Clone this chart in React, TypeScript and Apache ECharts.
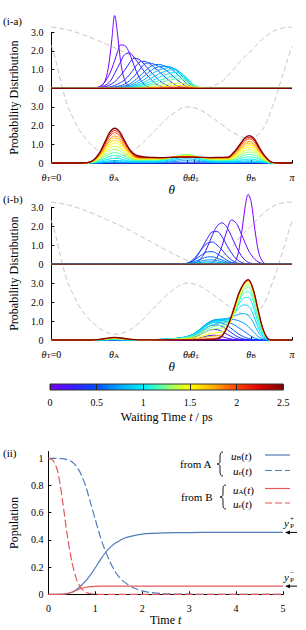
import React, { useEffect, useRef } from 'react';
import * as echarts from 'echarts';

const SERIF = 'Liberation Serif, serif';

// ---------- axes / ticks ----------
const THETA_TICKS = [0, 0.26, 0.565, 0.595, 0.83, 1]; // θ in units of π
const THETA_TICK_LABELS = ['{i|θ}{s|T}{n|=0}', '{i|θ}{s|A}', '{i|θ}{s|P}', '{i|θ}{s|‡}', '{i|θ}{s|B}', '{i|π}'];
const PD_TICKS = [0, 1, 2, 3, 4, 5, 6, 7];
const PD_TICK_LABELS = ['0', '1.0', '2.0', '3.0', '0', '1.0', '2.0', '3.0'];
const UPPER_OFFSET = 4;
const T_MAX = 2.5;
const POP_TICKS = [0, 0.2, 0.4, 0.6, 0.8, 1];

// colour map of the waiting time
const CMAP_STOPS: [number, string][] = [
  [0, '#7800ff'], [0.1, '#3a18ff'], [0.2, '#0050ff'], [0.3, '#00a8ff'], [0.4, '#00f0ff'],
  [0.47, '#50ffb0'], [0.53, '#b0ff50'], [0.6, '#ffff00'], [0.7, '#ffb000'], [0.8, '#ff4000'],
  [0.9, '#dd0000'], [1, '#800000'],
];

// ---------- potentials (gray dashed) ----------
const POT_EXC_THETA = [0, 0.061, 0.121, 0.182, 0.243, 0.304, 0.364, 0.425, 0.486, 0.547, 0.587, 0.628, 0.668, 0.709, 0.749, 0.789, 0.83, 0.87, 0.911, 0.951, 1];
const POT_EXC = [7.28, 7.15, 6.92, 6.62, 6.28, 5.92, 5.52, 5.1, 4.68, 4.3, 4.12, 4.03, 4.1, 4.38, 4.9, 5.5, 6.0, 6.55, 6.97, 7.2, 7.28];
const POT_GND_THETA = [0, 0.012, 0.028, 0.045, 0.065, 0.089, 0.117, 0.15, 0.186, 0.223, 0.263, 0.312, 0.36, 0.409, 0.457, 0.506, 0.563, 0.611, 0.66, 0.709, 0.757, 0.822, 0.862, 0.891, 0.915, 0.935, 0.955, 0.972, 0.988, 1];
const POT_GND = [6.3, 5.8, 4.95, 4.05, 3.15, 2.45, 1.75, 1.2, 0.75, 0.45, 0.3, 0.45, 0.85, 1.45, 2.1, 2.65, 3.0, 2.88, 2.5, 2.05, 1.62, 1.32, 1.55, 2.1, 2.9, 3.6, 4.45, 5.1, 5.8, 6.25];

// ---------- (i-a) upper: from A, excited ----------
const A_UP_THETA = [0, 0.162, 0.182, 0.202, 0.223, 0.239, 0.251, 0.263, 0.275, 0.287, 0.304, 0.324, 0.344, 0.364, 0.385, 0.405, 0.425, 0.445, 0.466, 0.486, 0.506, 0.526, 0.547, 0.567, 0.587, 0.607, 0.628, 0.648, 1];
const A_UP_T = [0, 0.1, 0.2, 0.3, 0.4, 0.5, 0.6, 0.7, 0.8, 0.9, 1.0, 1.1, 1.2, 1.4, 1.6, 1.8, 2.1, 2.5];
const A_UP_ROWS = [
  [0, 0, 0.01, 0.05, 0.4, 1.3, 2.6, 3.9, 2.9, 1.5, 0.45, 0.08, 0.01, 0, 0, 0, 0, 0, 0, 0, 0, 0, 0, 0, 0, 0, 0, 0, 0],
  [0, 0, 0.03, 0.1, 0.35, 0.7, 1.05, 1.5, 1.95, 2.32, 2.3, 1.9, 1.2, 0.6, 0.22, 0.06, 0.01, 0, 0, 0, 0, 0, 0, 0, 0, 0, 0, 0, 0],
  [0, 0, 0, 0.04, 0.15, 0.3, 0.5, 0.8, 1.1, 1.4, 1.8, 1.9, 1.65, 1.3, 0.92, 0.6, 0.34, 0.15, 0.05, 0.01, 0, 0, 0, 0, 0, 0, 0, 0, 0],
  [0, 0, 0, 0.02, 0.08, 0.15, 0.24, 0.35, 0.5, 0.68, 0.95, 1.35, 1.62, 1.55, 1.3, 1.0, 0.72, 0.46, 0.26, 0.12, 0.04, 0.01, 0, 0, 0, 0, 0, 0, 0],
  [0, 0, 0, 0, 0.03, 0.06, 0.1, 0.15, 0.22, 0.3, 0.45, 0.72, 1.05, 1.38, 1.45, 1.35, 1.15, 0.92, 0.68, 0.45, 0.26, 0.12, 0.04, 0.01, 0, 0, 0, 0, 0],
  [0, 0, 0, 0, 0, 0.02, 0.04, 0.07, 0.1, 0.14, 0.22, 0.4, 0.65, 0.95, 1.28, 1.36, 1.3, 1.18, 1.05, 0.88, 0.65, 0.42, 0.22, 0.08, 0.02, 0, 0, 0, 0],
  [0, 0, 0, 0, 0, 0, 0, 0.03, 0.05, 0.08, 0.12, 0.22, 0.4, 0.62, 0.88, 1.1, 1.25, 1.28, 1.22, 1.12, 0.95, 0.72, 0.45, 0.2, 0.06, 0.01, 0, 0, 0],
  [0, 0, 0, 0, 0, 0, 0, 0, 0.02, 0.04, 0.07, 0.14, 0.26, 0.44, 0.65, 0.87, 1.05, 1.15, 1.18, 1.17, 1.08, 0.88, 0.6, 0.32, 0.12, 0.03, 0, 0, 0],
  [0, 0, 0, 0, 0, 0, 0, 0, 0, 0.02, 0.04, 0.09, 0.17, 0.3, 0.46, 0.65, 0.83, 0.97, 1.06, 1.1, 1.08, 0.95, 0.7, 0.4, 0.16, 0.05, 0.01, 0, 0],
  [0, 0, 0, 0, 0, 0, 0, 0, 0, 0, 0.02, 0.05, 0.11, 0.2, 0.32, 0.47, 0.62, 0.76, 0.88, 0.97, 1.0, 0.93, 0.74, 0.46, 0.2, 0.06, 0.01, 0, 0],
  [0, 0, 0, 0, 0, 0, 0, 0, 0, 0, 0, 0.03, 0.07, 0.13, 0.22, 0.33, 0.45, 0.57, 0.68, 0.78, 0.84, 0.84, 0.72, 0.5, 0.24, 0.08, 0.015, 0, 0],
  [0, 0, 0, 0, 0, 0, 0, 0, 0, 0, 0, 0, 0.04, 0.08, 0.14, 0.22, 0.31, 0.4, 0.5, 0.58, 0.65, 0.67, 0.6, 0.44, 0.23, 0.08, 0.015, 0, 0],
  [0, 0, 0, 0, 0, 0, 0, 0, 0, 0, 0, 0, 0, 0.05, 0.09, 0.15, 0.21, 0.28, 0.35, 0.42, 0.48, 0.51, 0.47, 0.36, 0.2, 0.07, 0.01, 0, 0],
  [0, 0, 0, 0, 0, 0, 0, 0, 0, 0, 0, 0, 0, 0, 0.04, 0.07, 0.1, 0.14, 0.18, 0.22, 0.26, 0.28, 0.27, 0.21, 0.12, 0.04, 0.01, 0, 0],
  [0, 0, 0, 0, 0, 0, 0, 0, 0, 0, 0, 0, 0, 0, 0, 0.02, 0.04, 0.06, 0.08, 0.11, 0.13, 0.15, 0.14, 0.11, 0.07, 0.03, 0, 0, 0],
  [0, 0, 0, 0, 0, 0, 0, 0, 0, 0, 0, 0, 0, 0, 0, 0, 0.01, 0.02, 0.03, 0.05, 0.06, 0.07, 0.07, 0.05, 0.03, 0.01, 0, 0, 0],
  [0, 0, 0, 0, 0, 0, 0, 0, 0, 0, 0, 0, 0, 0, 0, 0, 0, 0, 0.01, 0.015, 0.02, 0.025, 0.025, 0.02, 0.01, 0, 0, 0, 0],
  [0, 0, 0, 0, 0, 0, 0, 0, 0, 0, 0, 0, 0, 0, 0, 0, 0, 0, 0, 0, 0, 0, 0, 0, 0, 0, 0, 0, 0],
];

// ---------- (i-a) lower: from A, ground ----------
const A_LOW_THETA = [0, 0.121, 0.15, 0.174, 0.198, 0.223, 0.243, 0.263, 0.283, 0.304, 0.328, 0.352, 0.385, 0.425, 0.466, 0.506, 0.538, 0.563, 0.587, 0.619, 0.66, 0.7, 0.733, 0.757, 0.781, 0.802, 0.822, 0.842, 0.862, 0.887, 0.911, 0.935, 1];
const A_LOW_T = [0, 0.5, 0.7, 0.8, 0.9, 1.0, 1.1, 1.2, 1.3, 1.4, 1.5, 1.6, 1.7, 1.8, 2.0, 2.2, 2.5];
const A_LOW_ROWS = [
  [0, 0, 0, 0, 0, 0, 0, 0, 0, 0, 0, 0, 0, 0, 0, 0, 0, 0, 0, 0, 0, 0, 0, 0, 0, 0, 0, 0, 0, 0, 0, 0, 0],
  [0, 0, 0, 0, 0, 0, 0, 0, 0, 0, 0, 0, 0, 0, 0, 0, 0, 0, 0, 0, 0, 0, 0, 0, 0, 0, 0, 0, 0, 0, 0, 0, 0],
  [0, 0, 0, 0, 0.01, 0.02, 0.03, 0.03, 0.03, 0.02, 0.02, 0.02, 0.02, 0.02, 0.03, 0.07, 0.11, 0.12, 0.11, 0.07, 0.03, 0.02, 0.02, 0.02, 0.02, 0.03, 0.03, 0.03, 0.02, 0.01, 0, 0, 0],
  [0, 0, 0, 0.01, 0.02, 0.04, 0.06, 0.07, 0.06, 0.05, 0.04, 0.04, 0.04, 0.04, 0.06, 0.13, 0.2, 0.22, 0.2, 0.12, 0.05, 0.04, 0.04, 0.04, 0.04, 0.05, 0.06, 0.05, 0.04, 0.02, 0, 0, 0],
  [0, 0, 0, 0.01, 0.04, 0.09, 0.12, 0.14, 0.13, 0.1, 0.07, 0.07, 0.07, 0.07, 0.1, 0.2, 0.29, 0.32, 0.29, 0.18, 0.08, 0.07, 0.07, 0.07, 0.08, 0.11, 0.12, 0.11, 0.07, 0.03, 0.01, 0, 0],
  [0, 0, 0, 0.02, 0.07, 0.16, 0.22, 0.25, 0.23, 0.16, 0.1, 0.1, 0.1, 0.1, 0.14, 0.26, 0.37, 0.4, 0.37, 0.24, 0.12, 0.1, 0.1, 0.1, 0.14, 0.19, 0.21, 0.19, 0.13, 0.05, 0.01, 0, 0],
  [0, 0, 0, 0.03, 0.11, 0.25, 0.36, 0.4, 0.36, 0.26, 0.15, 0.13, 0.13, 0.13, 0.17, 0.3, 0.41, 0.44, 0.41, 0.27, 0.15, 0.13, 0.13, 0.14, 0.22, 0.3, 0.33, 0.3, 0.2, 0.09, 0.02, 0, 0],
  [0, 0, 0.01, 0.04, 0.15, 0.35, 0.5, 0.56, 0.5, 0.36, 0.21, 0.16, 0.16, 0.16, 0.19, 0.31, 0.42, 0.45, 0.42, 0.29, 0.18, 0.16, 0.16, 0.18, 0.3, 0.41, 0.46, 0.41, 0.28, 0.12, 0.02, 0, 0],
  [0, 0, 0.01, 0.06, 0.2, 0.45, 0.65, 0.73, 0.66, 0.47, 0.27, 0.19, 0.19, 0.19, 0.21, 0.31, 0.41, 0.43, 0.41, 0.3, 0.2, 0.19, 0.19, 0.23, 0.38, 0.53, 0.59, 0.53, 0.35, 0.15, 0.03, 0, 0],
  [0, 0, 0.01, 0.07, 0.24, 0.56, 0.8, 0.9, 0.81, 0.58, 0.33, 0.21, 0.21, 0.21, 0.23, 0.31, 0.39, 0.41, 0.39, 0.3, 0.22, 0.21, 0.21, 0.27, 0.47, 0.65, 0.72, 0.65, 0.43, 0.19, 0.04, 0.01, 0],
  [0, 0, 0.01, 0.08, 0.29, 0.66, 0.94, 1.06, 0.95, 0.69, 0.39, 0.23, 0.23, 0.23, 0.24, 0.31, 0.37, 0.39, 0.37, 0.3, 0.24, 0.23, 0.23, 0.32, 0.55, 0.77, 0.85, 0.77, 0.51, 0.22, 0.04, 0.01, 0],
  [0, 0, 0.01, 0.1, 0.33, 0.75, 1.08, 1.21, 1.09, 0.79, 0.45, 0.26, 0.25, 0.25, 0.26, 0.31, 0.36, 0.37, 0.36, 0.3, 0.26, 0.25, 0.25, 0.37, 0.63, 0.87, 0.97, 0.87, 0.58, 0.25, 0.05, 0.01, 0],
  [0, 0, 0.01, 0.11, 0.36, 0.83, 1.19, 1.34, 1.21, 0.87, 0.5, 0.28, 0.26, 0.26, 0.27, 0.31, 0.34, 0.35, 0.34, 0.3, 0.27, 0.26, 0.26, 0.41, 0.7, 0.96, 1.07, 0.96, 0.64, 0.28, 0.05, 0.01, 0],
  [0, 0, 0.02, 0.12, 0.39, 0.9, 1.29, 1.45, 1.31, 0.94, 0.54, 0.3, 0.27, 0.27, 0.28, 0.31, 0.33, 0.34, 0.33, 0.3, 0.28, 0.27, 0.27, 0.44, 0.75, 1.04, 1.16, 1.04, 0.7, 0.3, 0.06, 0.01, 0],
  [0, 0, 0.02, 0.13, 0.44, 1.0, 1.44, 1.62, 1.46, 1.05, 0.6, 0.33, 0.28, 0.28, 0.29, 0.31, 0.32, 0.33, 0.32, 0.3, 0.29, 0.28, 0.28, 0.49, 0.84, 1.16, 1.29, 1.16, 0.77, 0.34, 0.06, 0.01, 0],
  [0, 0, 0.02, 0.14, 0.47, 1.08, 1.55, 1.74, 1.57, 1.13, 0.64, 0.36, 0.3, 0.29, 0.29, 0.3, 0.31, 0.32, 0.31, 0.3, 0.29, 0.29, 0.3, 0.52, 0.9, 1.24, 1.38, 1.24, 0.83, 0.36, 0.07, 0.01, 0],
  [0, 0, 0.02, 0.15, 0.5, 1.15, 1.65, 1.86, 1.68, 1.2, 0.68, 0.42, 0.33, 0.3, 0.29, 0.3, 0.31, 0.32, 0.31, 0.3, 0.29, 0.3, 0.31, 0.56, 0.95, 1.32, 1.47, 1.32, 0.88, 0.38, 0.07, 0.01, 0],
];

// ---------- (i-b) upper: from B, excited ----------
const B_UP_THETA = [0, 0.526, 0.547, 0.567, 0.587, 0.607, 0.628, 0.648, 0.668, 0.688, 0.709, 0.729, 0.749, 0.769, 0.789, 0.806, 0.818, 0.83, 0.846, 0.862, 0.879, 0.895, 0.911, 1];
const B_UP_T = [0, 0.1, 0.2, 0.3, 0.4, 0.5, 0.6, 0.7, 0.8, 0.9, 1.2, 2.5];
const B_UP_ROWS = [
  [0, 0, 0, 0, 0, 0, 0, 0, 0, 0, 0, 0, 0.02, 0.25, 1.5, 3.1, 3.68, 3.3, 1.8, 0.6, 0.12, 0.01, 0, 0],
  [0, 0, 0, 0, 0, 0, 0, 0, 0.08, 0.35, 0.95, 1.75, 2.33, 2.15, 1.6, 1.1, 0.75, 0.5, 0.25, 0.1, 0.03, 0, 0, 0],
  [0, 0, 0, 0, 0.02, 0.12, 0.4, 0.9, 1.5, 2.0, 2.18, 1.95, 1.45, 0.9, 0.45, 0.2, 0.1, 0.05, 0.01, 0, 0, 0, 0, 0],
  [0, 0, 0, 0.02, 0.15, 0.45, 0.9, 1.35, 1.7, 1.72, 1.45, 1.0, 0.58, 0.27, 0.1, 0.03, 0.01, 0, 0, 0, 0, 0, 0, 0],
  [0, 0, 0.01, 0.06, 0.22, 0.5, 0.85, 1.1, 1.17, 1.02, 0.75, 0.45, 0.22, 0.08, 0.02, 0, 0, 0, 0, 0, 0, 0, 0, 0],
  [0, 0, 0.02, 0.06, 0.17, 0.33, 0.52, 0.65, 0.66, 0.55, 0.38, 0.21, 0.09, 0.03, 0.01, 0, 0, 0, 0, 0, 0, 0, 0, 0],
  [0, 0, 0.01, 0.04, 0.1, 0.2, 0.3, 0.38, 0.39, 0.32, 0.22, 0.12, 0.05, 0.02, 0, 0, 0, 0, 0, 0, 0, 0, 0, 0],
  [0, 0, 0.01, 0.03, 0.06, 0.12, 0.18, 0.22, 0.23, 0.19, 0.13, 0.07, 0.03, 0.01, 0, 0, 0, 0, 0, 0, 0, 0, 0, 0],
  [0, 0, 0, 0.02, 0.04, 0.07, 0.1, 0.12, 0.12, 0.1, 0.07, 0.04, 0.02, 0, 0, 0, 0, 0, 0, 0, 0, 0, 0, 0],
  [0, 0, 0, 0.01, 0.02, 0.04, 0.05, 0.06, 0.06, 0.05, 0.03, 0.02, 0.01, 0, 0, 0, 0, 0, 0, 0, 0, 0, 0, 0],
  [0, 0, 0, 0, 0, 0, 0, 0, 0, 0, 0, 0, 0, 0, 0, 0, 0, 0, 0, 0, 0, 0, 0, 0],
  [0, 0, 0, 0, 0, 0, 0, 0, 0, 0, 0, 0, 0, 0, 0, 0, 0, 0, 0, 0, 0, 0, 0, 0],
];

// ---------- (i-b) lower: from B, ground ----------
const B_LOW_THETA = [0, 0.142, 0.182, 0.223, 0.263, 0.304, 0.344, 0.385, 0.425, 0.466, 0.506, 0.538, 0.563, 0.587, 0.611, 0.636, 0.66, 0.684, 0.709, 0.733, 0.757, 0.777, 0.798, 0.818, 0.838, 0.858, 0.879, 0.899, 0.919, 1];
const B_LOW_T = [0, 0.1, 0.2, 0.3, 0.4, 0.5, 0.6, 0.7, 0.8, 0.9, 1.0, 1.1, 1.2, 1.3, 1.5, 1.7, 2.0, 2.5];
const B_LOW_ROWS = [
  [0, 0, 0, 0, 0, 0, 0, 0, 0, 0, 0, 0, 0, 0, 0, 0, 0, 0, 0, 0, 0, 0, 0, 0, 0, 0, 0, 0, 0, 0],
  [0, 0, 0, 0, 0, 0, 0, 0, 0, 0, 0, 0, 0, 0, 0.01, 0.03, 0.05, 0.05, 0.03, 0.01, 0, 0, 0, 0, 0, 0, 0, 0, 0, 0],
  [0, 0, 0, 0, 0, 0, 0, 0, 0, 0, 0, 0, 0.01, 0.03, 0.08, 0.17, 0.24, 0.25, 0.18, 0.09, 0.03, 0.01, 0, 0, 0, 0, 0, 0, 0, 0],
  [0, 0, 0, 0, 0, 0, 0, 0, 0, 0, 0.01, 0.03, 0.06, 0.12, 0.24, 0.4, 0.53, 0.55, 0.45, 0.28, 0.13, 0.05, 0.02, 0, 0, 0, 0, 0, 0, 0],
  [0, 0, 0, 0, 0, 0, 0, 0, 0, 0.01, 0.03, 0.06, 0.1, 0.18, 0.33, 0.56, 0.75, 0.8, 0.72, 0.52, 0.3, 0.15, 0.06, 0.02, 0, 0, 0, 0, 0, 0],
  [0, 0, 0, 0, 0, 0, 0, 0, 0.01, 0.02, 0.05, 0.09, 0.14, 0.24, 0.42, 0.67, 0.88, 0.95, 0.9, 0.75, 0.52, 0.33, 0.18, 0.08, 0.03, 0.01, 0, 0, 0, 0],
  [0, 0, 0, 0, 0, 0, 0, 0, 0.02, 0.03, 0.06, 0.11, 0.17, 0.28, 0.48, 0.75, 0.96, 1.05, 1.03, 0.95, 0.82, 0.66, 0.48, 0.3, 0.14, 0.05, 0.01, 0, 0, 0],
  [0, 0, 0, 0, 0.01, 0, 0, 0, 0.02, 0.04, 0.07, 0.12, 0.18, 0.3, 0.5, 0.77, 0.98, 1.08, 1.1, 1.1, 1.08, 1.02, 0.9, 0.72, 0.45, 0.2, 0.05, 0.01, 0, 0],
  [0, 0, 0, 0.01, 0.02, 0.01, 0.01, 0.01, 0.02, 0.04, 0.07, 0.12, 0.18, 0.3, 0.5, 0.76, 0.96, 1.06, 1.1, 1.15, 1.25, 1.35, 1.4, 1.3, 0.95, 0.45, 0.12, 0.02, 0, 0],
  [0, 0, 0, 0.01, 0.03, 0.01, 0.01, 0.01, 0.02, 0.04, 0.07, 0.11, 0.17, 0.28, 0.47, 0.72, 0.92, 1.02, 1.06, 1.12, 1.35, 1.65, 1.85, 1.8, 1.38, 0.7, 0.2, 0.03, 0, 0],
  [0, 0, 0.01, 0.02, 0.04, 0.02, 0.01, 0.01, 0.02, 0.03, 0.06, 0.1, 0.16, 0.26, 0.43, 0.66, 0.86, 0.96, 1.0, 1.05, 1.35, 1.85, 2.2, 2.25, 1.8, 0.95, 0.3, 0.04, 0, 0],
  [0, 0, 0.01, 0.03, 0.05, 0.03, 0.01, 0.01, 0.02, 0.03, 0.05, 0.09, 0.14, 0.23, 0.38, 0.58, 0.76, 0.86, 0.9, 0.98, 1.3, 1.95, 2.45, 2.55, 2.1, 1.15, 0.38, 0.05, 0, 0],
  [0, 0, 0.01, 0.03, 0.06, 0.03, 0.01, 0.01, 0.02, 0.03, 0.05, 0.08, 0.12, 0.2, 0.32, 0.5, 0.65, 0.74, 0.78, 0.88, 1.3, 2.0, 2.6, 2.78, 2.3, 1.3, 0.44, 0.06, 0, 0],
  [0, 0, 0.01, 0.04, 0.07, 0.04, 0.02, 0.01, 0.02, 0.02, 0.04, 0.07, 0.1, 0.16, 0.26, 0.4, 0.53, 0.6, 0.64, 0.78, 1.3, 2.08, 2.7, 2.92, 2.45, 1.42, 0.5, 0.07, 0, 0],
  [0, 0, 0.01, 0.05, 0.09, 0.05, 0.02, 0.01, 0.01, 0.02, 0.03, 0.05, 0.07, 0.1, 0.16, 0.25, 0.33, 0.38, 0.44, 0.7, 1.38, 2.2, 2.82, 3.05, 2.58, 1.55, 0.55, 0.07, 0, 0],
  [0, 0, 0.01, 0.06, 0.11, 0.06, 0.02, 0.01, 0.01, 0.01, 0.02, 0.03, 0.04, 0.05, 0.08, 0.13, 0.18, 0.22, 0.3, 0.7, 1.48, 2.3, 2.9, 3.12, 2.65, 1.6, 0.58, 0.08, 0, 0],
  [0, 0, 0.01, 0.07, 0.12, 0.07, 0.02, 0.01, 0.01, 0.01, 0.01, 0.01, 0.02, 0.02, 0.03, 0.05, 0.07, 0.1, 0.22, 0.72, 1.55, 2.36, 2.93, 3.16, 2.68, 1.63, 0.59, 0.08, 0, 0],
  [0, 0, 0.01, 0.08, 0.14, 0.08, 0.02, 0.01, 0.01, 0.01, 0.01, 0.01, 0.01, 0.01, 0.01, 0.01, 0.01, 0.03, 0.2, 0.75, 1.6, 2.4, 2.95, 3.18, 2.7, 1.65, 0.6, 0.08, 0, 0],
];

// ---------- (ii) populations ----------
const II_T = [0, 0.1, 0.2, 0.3, 0.4, 0.5, 0.6, 0.7, 0.8, 0.9, 1.0, 1.1, 1.2, 1.3, 1.4, 1.5, 1.6, 1.8, 2.0, 2.2, 2.5, 3.0, 3.5, 4.0, 5.0];
const UB_FROM_A = [0, 0, 0, 0, 0.004, 0.015, 0.035, 0.065, 0.1, 0.145, 0.195, 0.25, 0.3, 0.34, 0.37, 0.39, 0.41, 0.43, 0.442, 0.448, 0.452, 0.454, 0.455, 0.455, 0.455];
const UE_FROM_A = [1, 1, 0.999, 0.997, 0.99, 0.975, 0.94, 0.88, 0.79, 0.67, 0.55, 0.43, 0.33, 0.25, 0.18, 0.13, 0.095, 0.05, 0.025, 0.012, 0.004, 0.001, 0, 0, 0];
const UA_FROM_B = [0, 0, 0, 0.001, 0.005, 0.015, 0.03, 0.043, 0.052, 0.057, 0.059, 0.06, 0.06, 0.06, 0.06, 0.06, 0.06, 0.06, 0.06, 0.06, 0.06, 0.06, 0.06, 0.06, 0.06];
const UE_FROM_B = [1, 0.985, 0.9, 0.69, 0.44, 0.24, 0.11, 0.045, 0.015, 0.005, 0.002, 0, 0, 0, 0, 0, 0, 0, 0, 0, 0, 0, 0, 0, 0];
const Y_P_PLUS = 0.455;
const Y_P_MINUS = 0.06;

const BLUE = '#4f7cb8';
const RED = '#e5585b';
const GRAY = '#c6c6c6';

echarts.graphic.registerShape(
  'legendBrace',
  echarts.graphic.extendPath('M6,0 C3.6,0 3,1.5 3,4 L3,9 C3,11 2,12 0,12 C2,12 3,13 3,15 L3,20 C3,22.5 3.6,24 6,24', {})
);

function hexRgb(h: string) {
  return [parseInt(h.slice(1, 3), 16), parseInt(h.slice(3, 5), 16), parseInt(h.slice(5, 7), 16)];
}
function cmap(u: number) {
  const s = CMAP_STOPS;
  if (u <= s[0][0]) return s[0][1];
  for (let i = 1; i < s.length; i++) {
    if (u <= s[i][0]) {
      const f = (u - s[i - 1][0]) / (s[i][0] - s[i - 1][0]);
      const a = hexRgb(s[i - 1][1]);
      const b = hexRgb(s[i][1]);
      return `rgb(${Math.round(a[0] + (b[0] - a[0]) * f)},${Math.round(a[1] + (b[1] - a[1]) * f)},${Math.round(a[2] + (b[2] - a[2]) * f)})`;
    }
  }
  return s[s.length - 1][1];
}

function family(thetas: number[], times: number[], rows: number[][], offset: number, axis: number) {
  return rows.map((row, k) => ({
    type: 'line',
    xAxisIndex: axis,
    yAxisIndex: axis,
    data: thetas.map((th, i) => [th, row[i] + offset]),
    smooth: 0.35,
    symbol: 'none',
    showSymbol: false,
    clip: false,
    silent: true,
    lineStyle: { width: k === rows.length - 1 ? 1.3 : 1, color: cmap(times[k] / T_MAX) },
  }));
}

function potentials(axis: number) {
  const mk = (th: number[], v: number[]) => ({
    type: 'line',
    xAxisIndex: axis,
    yAxisIndex: axis,
    data: th.map((t, i) => [t, v[i]]),
    smooth: 0.4,
    symbol: 'none',
    clip: false,
    silent: true,
    lineStyle: { width: 1, color: GRAY, type: [5, 3] },
  });
  return [mk(POT_EXC_THETA, POT_EXC), mk(POT_GND_THETA, POT_GND)];
}

const TXT = { fontFamily: SERIF, color: '#000' };
const THETA_RICH = {
  i: { ...TXT, fontSize: 10, fontStyle: 'italic', lineHeight: 13, verticalAlign: 'bottom' },
  s: { ...TXT, fontSize: 7, lineHeight: 7, padding: [4, 0, 0, 0], verticalAlign: 'bottom' },
  n: { ...TXT, fontSize: 10, lineHeight: 13, verticalAlign: 'bottom' },
};

function thetaAxis(gridIndex: number) {
  return {
    type: 'value',
    gridIndex,
    min: 0,
    max: 1,
    axisLine: { show: true, lineStyle: { color: '#000', width: 1 } },
    axisTick: { show: true, inside: true, length: 3, customValues: THETA_TICKS, lineStyle: { color: '#000' } },
    axisLabel: {
      customValues: THETA_TICKS,
      margin: 6,
      fontFamily: SERIF,
      formatter: (v: number) => {
        const i = THETA_TICKS.findIndex((t) => Math.abs(t - v) < 1e-6);
        return i >= 0 ? THETA_TICK_LABELS[i] : '';
      },
      rich: THETA_RICH,
    },
    splitLine: { show: false },
    name: 'θ',
    nameLocation: 'middle',
    nameGap: 20,
    nameTextStyle: { fontFamily: SERIF, fontSize: 13, fontStyle: 'italic', color: '#000' },
  };
}
function pdAxis(gridIndex: number) {
  return {
    type: 'value',
    gridIndex,
    min: 0,
    max: 7,
    axisLine: { show: true, lineStyle: { color: '#000', width: 1 } },
    axisTick: { show: true, inside: true, length: 3, customValues: PD_TICKS, lineStyle: { color: '#000' } },
    axisLabel: {
      customValues: PD_TICKS,
      margin: 8,
      fontFamily: SERIF,
      fontSize: 10,
      color: '#000',
      formatter: (v: number) => PD_TICK_LABELS[PD_TICKS.indexOf(Math.round(v))] ?? '',
    },
    splitLine: { show: false },
    name: 'Probability Distribution',
    nameLocation: 'middle',
    nameGap: 27,
    nameTextStyle: { fontFamily: SERIF, fontSize: 12, color: '#000' },
  };
}

function buildOption() {
  const series: any[] = [
    ...potentials(0),
    ...family(A_UP_THETA, A_UP_T, A_UP_ROWS, UPPER_OFFSET, 0),
    ...family(A_LOW_THETA, A_LOW_T, A_LOW_ROWS, 0, 0),
    ...potentials(1),
    ...family(B_UP_THETA, B_UP_T, B_UP_ROWS, UPPER_OFFSET, 1),
    ...family(B_LOW_THETA, B_LOW_T, B_LOW_ROWS, 0, 1),
    {
      type: 'line',
      xAxisIndex: 2,
      yAxisIndex: 2,
      data: [[0, 1], [T_MAX, 1]],
      symbol: 'none',
      silent: true,
      lineStyle: { width: 0 },
      areaStyle: {
        opacity: 1,
        color: new echarts.graphic.LinearGradient(0, 0, 1, 0, CMAP_STOPS.map(([o, c]) => ({ offset: o, color: c }))),
      },
    },
  ];
  const ii = (vals: number[], color: string, dashed: boolean) => ({
    type: 'line',
    xAxisIndex: 3,
    yAxisIndex: 3,
    data: II_T.map((t, i) => [t, vals[i]]),
    smooth: 0.3,
    symbol: 'none',
    silent: true,
    lineStyle: { width: 1.2, color, type: dashed ? [8, 3] : 'solid' },
  });
  series.push(ii(UE_FROM_A, BLUE, true), ii(UB_FROM_A, BLUE, false), ii(UE_FROM_B, RED, true), ii(UA_FROM_B, RED, false));

  return {
    animation: false,
    backgroundColor: '#fff',
    textStyle: { fontFamily: SERIF },
    grid: [
      { left: 45, top: 32.3, width: 247, height: 130.7 },
      { left: 45, top: 207.3, width: 247, height: 132.7 },
      { left: 50, top: 384, width: 233.3, height: 6, show: true, borderColor: '#333', borderWidth: 1, z: 10 },
      { left: 42.5, top: 451.5, width: 240.5, height: 142.8 },
    ],
    xAxis: [
      thetaAxis(0),
      thetaAxis(1),
      {
        type: 'value',
        gridIndex: 2,
        min: 0,
        max: T_MAX,
        interval: 0.5,
        z: 5,
        axisLine: { show: false },
        axisTick: { show: false },
        splitLine: { show: true, lineStyle: { color: '#222', width: 1 } },
        axisLabel: { margin: 7, fontFamily: SERIF, fontSize: 10, color: '#000' },
        name: '{n|Waiting Time }{i|t}{n| / ps}',
        nameLocation: 'middle',
        nameGap: 21,
        nameTextStyle: {
          fontFamily: SERIF,
          rich: {
            n: { fontFamily: SERIF, fontSize: 12, color: '#000' },
            i: { fontFamily: SERIF, fontSize: 12, fontStyle: 'italic', color: '#000' },
          },
        },
      },
      {
        type: 'value',
        gridIndex: 3,
        min: 0,
        max: 5,
        interval: 1,
        axisLine: { show: true, lineStyle: { color: '#000', width: 1 } },
        axisTick: { show: true, inside: true, length: 3, lineStyle: { color: '#000' } },
        axisLabel: { margin: 9, fontFamily: SERIF, fontSize: 10, color: '#000' },
        splitLine: { show: false },
        name: '{n|Time }{i|t}',
        nameLocation: 'middle',
        nameGap: 18,
        nameTextStyle: {
          fontFamily: SERIF,
          rich: {
            n: { fontFamily: SERIF, fontSize: 12, color: '#000' },
            i: { fontFamily: SERIF, fontSize: 12, fontStyle: 'italic', color: '#000' },
          },
        },
      },
    ],
    yAxis: [
      pdAxis(0),
      pdAxis(1),
      { type: 'value', gridIndex: 2, min: 0, max: 1, show: false },
      {
        type: 'value',
        gridIndex: 3,
        min: 0,
        max: 1.05,
        axisLine: { show: true, lineStyle: { color: '#000', width: 1 } },
        axisTick: { show: true, inside: true, length: 3, customValues: POP_TICKS, lineStyle: { color: '#000' } },
        axisLabel: { customValues: POP_TICKS, margin: 5, fontFamily: SERIF, fontSize: 10, color: '#000' },
        splitLine: { show: false },
        name: 'Population',
        nameLocation: 'middle',
        nameGap: 25,
        nameTextStyle: { fontFamily: SERIF, fontSize: 12, color: '#000' },
      },
    ],
    series,
  };
}

const LEG_RICH = {
  i: { fontFamily: SERIF, fontSize: 11, fontStyle: 'italic', fill: '#000', lineHeight: 13, verticalAlign: 'bottom' },
  s: { fontFamily: SERIF, fontSize: 7, fill: '#000', lineHeight: 7, padding: [4, 0, 0, 0], verticalAlign: 'bottom' },
  n: { fontFamily: SERIF, fontSize: 11, fill: '#000', lineHeight: 13, verticalAlign: 'bottom' },
};

function txt(x: number, y: number, text: string, size: number, extra: any = {}) {
  return {
    type: 'text',
    x,
    y,
    silent: true,
    style: { text, fontFamily: SERIF, fontSize: size, fill: '#000', verticalAlign: 'middle', align: 'left', ...extra },
  };
}

export default function App() {
  const ref = useRef<HTMLDivElement>(null);
  useEffect(() => {
    const chart = echarts.init(ref.current!, null, { renderer: 'svg' });
    chart.setOption(buildOption() as any);
    const [xEnd, yPlus] = chart.convertToPixel({ gridIndex: 3 } as any, [5, Y_P_PLUS]) as number[];
    const [, yMinus] = chart.convertToPixel({ gridIndex: 3 } as any, [5, Y_P_MINUS]) as number[];
    const arrow = (y: number, sign: string) => [
      { type: 'line', silent: true, shape: { x1: xEnd + 5, y1: y, x2: xEnd + 14, y2: y }, style: { stroke: '#000', lineWidth: 1 } },
      { type: 'polygon', silent: true, shape: { points: [[xEnd + 2, y], [xEnd + 7, y - 2], [xEnd + 7, y + 2]] }, style: { fill: '#000' } },
      txt(xEnd + 1, y - 9, 'y', 11, { fontStyle: 'italic' }),
      txt(xEnd + 7, y - 13, sign, 7),
      txt(xEnd + 7, y - 6, 'P', 7),
    ];
    const legLine = (y: number, color: string, dashed: boolean) => ({
      type: 'line',
      silent: true,
      shape: { x1: 265, y1: y, x2: 290, y2: y },
      style: { stroke: color, lineWidth: 1.2, lineDash: dashed ? [7, 3] : null },
    });
    const eRich = { ...LEG_RICH, s: { ...LEG_RICH.s, fontStyle: 'italic' } };
    const graphic: any[] = [
      txt(3, 21, '(i-a)', 11),
      txt(3, 199, '(i-b)', 11),
      txt(3, 453, '(ii)', 11),
      txt(211.5, 463.5, 'from A', 11, { align: 'right' }),
      txt(212.5, 496.5, 'from B', 11, { align: 'right' }),
      { type: 'legendBrace', x: 217, y: 452, silent: true, style: { stroke: '#000', fill: 'none', lineWidth: 0.9 } },
      { type: 'legendBrace', x: 220, y: 485, silent: true, style: { stroke: '#000', fill: 'none', lineWidth: 0.9 } },
      { type: 'text', x: 231, y: 455, silent: true, style: { text: '{i|u}{s|B}{n|(}{i|t}{n|)}', rich: LEG_RICH, verticalAlign: 'middle' } },
      { type: 'text', x: 233, y: 470, silent: true, style: { text: '{i|u}{s|e}{n|(}{i|t}{n|)}', rich: eRich, verticalAlign: 'middle' } },
      { type: 'text', x: 233, y: 488.5, silent: true, style: { text: '{i|u}{s|A}{n|(}{i|t}{n|)}', rich: LEG_RICH, verticalAlign: 'middle' } },
      { type: 'text', x: 233, y: 503, silent: true, style: { text: '{i|u}{s|e}{n|(}{i|t}{n|)}', rich: eRich, verticalAlign: 'middle' } },
      legLine(455, BLUE, false),
      legLine(470.5, BLUE, true),
      legLine(488.5, RED, false),
      legLine(503, RED, true),
      ...arrow(yPlus, '+'),
      ...arrow(yMinus, '−'),
    ];
    chart.setOption({ graphic });
    return () => chart.dispose();
  }, []);
  return <div ref={ref} style={{ position: 'absolute', left: 0, top: 0, width: 306, height: 630 }} />;
}
